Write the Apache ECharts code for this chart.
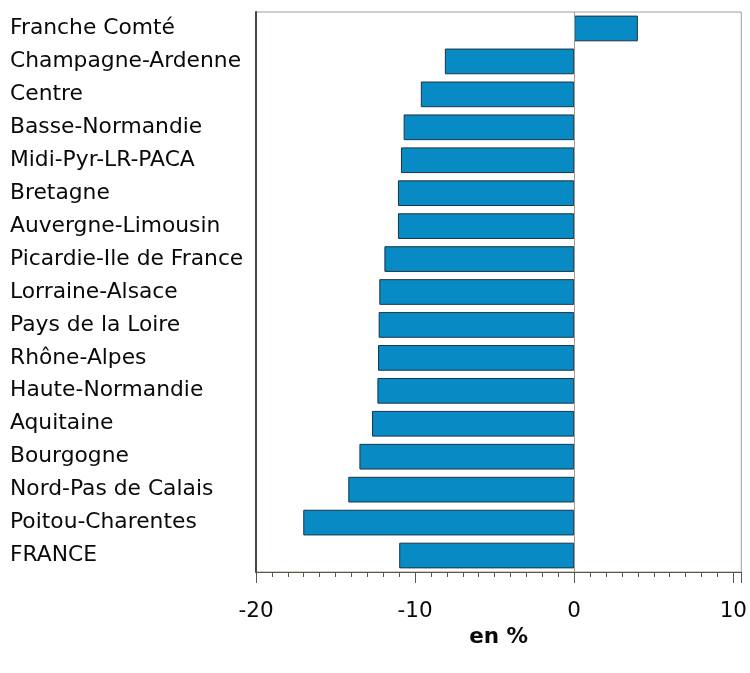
<!DOCTYPE html>
<html>
<head>
<meta charset="utf-8">
<script src="https://cdn.jsdelivr.net/npm/echarts@6/dist/echarts.min.js"></script>
<style>html,body{margin:0;padding:0;background:#fff}#c{width:750px;height:673px}</style>
</head>
<body>
<div id="c"></div>
<script>
const categories = ["Franche Comté","Champagne-Ardenne","Centre","Basse-Normandie","Midi-Pyr-LR-PACA","Bretagne","Auvergne-Limousin","Picardie-Ile de France","Lorraine-Alsace","Pays de la Loire","Rhône-Alpes","Haute-Normandie","Aquitaine","Bourgogne","Nord-Pas de Calais","Poitou-Charentes","FRANCE"];
const values = [4.0,-8.13,-9.64,-10.72,-10.89,-11.08,-11.08,-11.93,-12.25,-12.29,-12.33,-12.37,-12.71,-13.5,-14.2,-17.03,-11.0];
const xTicks = [-20,-10,0,10];
const axisTitle = "en %";

const FONT = 'DejaVu Sans';
const chart = echarts.init(document.getElementById('c'));
chart.setOption({
  animation: false,
  backgroundColor: '#fff',
  grid: {left: 256, right: 8, top: 12, bottom: 101, show: true, borderColor: '#a09c94', borderWidth: 1},
  xAxis: {
    type: 'value', min: -20, max: 10.5, interval: 10,
    name: axisTitle, nameLocation: 'middle', nameGap: 54,
    nameTextStyle: {fontFamily: FONT, fontSize: 21.5, fontWeight: 'bold', color: '#0a0a0a'},
    axisLine: {show: true, onZero: false, lineStyle: {color: '#5c574c', width: 1}},
    axisTick: {show: true, inside: false, length: 11, lineStyle: {color: '#5c574c'}},
    minorTick: {show: true, splitNumber: 10, length: 5, lineStyle: {color: '#5c574c'}},
    axisLabel: {fontFamily: FONT, fontSize: 21.5, color: '#0a0a0a', margin: 28,
      formatter: v => xTicks.includes(v) ? String(v) : ''},
    splitLine: {show: false}
  },
  yAxis: {
    type: 'category', data: categories, inverse: true,
    axisLine: {show: true, onZero: false, lineStyle: {color: '#4a4538', width: 2}},
    axisTick: {show: false},
    axisLabel: {align: 'left', margin: 246, fontFamily: FONT, fontSize: 21.8, color: '#0a0a0a'}
  },
  series: [{
    type: 'bar', data: values, barWidth: '78%',
    itemStyle: {color: '#088bc4', borderColor: '#1a3444', borderWidth: 1},
    markLine: {silent: true, symbol: 'none', label: {show: false},
      lineStyle: {color: '#a09c94', type: 'solid', width: 1},
      data: [{xAxis: 0}]}
  }]
});
</script>
</body>
</html>
